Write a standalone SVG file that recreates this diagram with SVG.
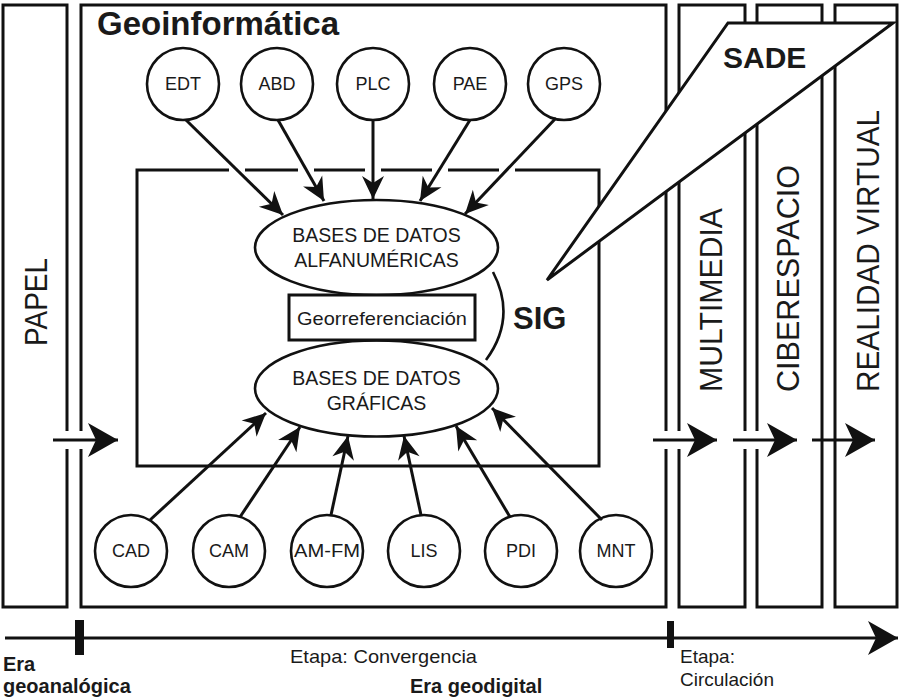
<svg xmlns="http://www.w3.org/2000/svg" width="900" height="700" viewBox="0 0 900 700">
<style>
.fr{fill:none;stroke:#111;stroke-width:3}
.c{fill:#fff;stroke:#111;stroke-width:2.6}
.t{font-family:"Liberation Sans",Arial,sans-serif;fill:#1a1a1a}
.lbl{font-size:18px;text-anchor:middle}
.el{font-size:19.5px;text-anchor:middle}
.col{font-size:32px}
.b{font-weight:bold}
.ar{stroke:#111;stroke-width:3;fill:none}
</style>
<defs>
<marker id="ah" markerUnits="userSpaceOnUse" markerWidth="26" markerHeight="26" viewBox="-24 -13 26 26" refX="0" refY="0" orient="auto">
<path d="M0,0 L-23,-11 L-16,0 L-23,11 z" fill="#111"/>
</marker>
<marker id="big" markerUnits="userSpaceOnUse" markerWidth="34" markerHeight="40" viewBox="-32 -20 34 40" refX="0" refY="0" orient="auto">
<path d="M0,0 L-30,-17 L-22,0 L-30,17 z" fill="#111"/>
</marker>
</defs>
<rect width="900" height="700" fill="#fff"/>

<g id="papel">
<rect class="fr" x="3" y="5" width="64" height="602"/>
<text class="t col" transform="translate(47,346) rotate(-90)" textLength="88" lengthAdjust="spacingAndGlyphs">PAPEL</text>
</g>

<g id="geoinformatica">
<rect class="fr" x="81" y="5" width="585" height="602"/>
<text class="t b" x="97" y="35" font-size="33">Geoinformática</text>
</g>

<g id="multimedia">
<rect class="fr" x="679" y="5" width="66" height="602"/>
<text class="t col" transform="translate(722,392) rotate(-90)" textLength="184" lengthAdjust="spacingAndGlyphs">MULTIMEDIA</text>
</g>
<g id="ciberespacio">
<rect class="fr" x="757" y="5" width="65" height="602"/>
<text class="t col" transform="translate(799,392) rotate(-90)" textLength="227" lengthAdjust="spacingAndGlyphs">CIBERESPACIO</text>
</g>
<g id="realidad">
<rect class="fr" x="835" y="5" width="62" height="602"/>
<text class="t col" transform="translate(879,392) rotate(-90)" textLength="282" lengthAdjust="spacingAndGlyphs">REALIDAD VIRTUAL</text>
</g>

<g id="sig-frame">
<path class="fr" stroke-linejoin="miter" d="M229,170 H137 V466 H599 V170 H515 M499,170 H448 M432,170 H381 M365,170 H314 M298,170 H245"/>
</g>

<g id="bda">
<ellipse class="c" cx="376.5" cy="247.5" rx="121.5" ry="47.5" stroke-width="3"/>
<text class="t el" x="376.5" y="242">BASES DE DATOS</text>
<text class="t el" x="376.5" y="267">ALFANUMÉRICAS</text>
</g>
<g id="bdg">
<ellipse class="c" cx="376.5" cy="388.5" rx="121.5" ry="48" stroke-width="3"/>
<text class="t el" x="376.5" y="385">BASES DE DATOS</text>
<text class="t el" x="376.5" y="410">GRÁFICAS</text>
</g>
<g id="georref">
<rect x="289" y="295" width="186" height="45" fill="#fff" stroke="#111" stroke-width="3"/>
<text class="t" x="297" y="325" font-size="19" textLength="170" lengthAdjust="spacingAndGlyphs">Georreferenciación</text>
</g>
<g id="sig">
<path d="M493,272 Q517,318 486,360" fill="none" stroke="#111" stroke-width="2.6"/>
<text class="t b" x="513" y="329" font-size="31">SIG</text>
</g>

<g id="top-nodes">
<g id="edt"><circle class="c" cx="183" cy="84" r="36"/><text class="t lbl" x="183" y="90">EDT</text></g>
<g id="abd"><circle class="c" cx="277" cy="84" r="36"/><text class="t lbl" x="277" y="90">ABD</text></g>
<g id="plc"><circle class="c" cx="373" cy="84" r="36"/><text class="t lbl" x="373" y="90">PLC</text></g>
<g id="pae"><circle class="c" cx="470" cy="84" r="36"/><text class="t lbl" x="470" y="90">PAE</text></g>
<g id="gps"><circle class="c" cx="564" cy="84" r="36"/><text class="t lbl" x="564" y="90">GPS</text></g>
</g>

<g id="bottom-nodes">
<g id="cad"><circle class="c" cx="131" cy="551" r="36"/><text class="t lbl" x="131" y="557">CAD</text></g>
<g id="cam"><circle class="c" cx="229" cy="551" r="36"/><text class="t lbl" x="229" y="557">CAM</text></g>
<g id="amfm"><circle class="c" cx="327" cy="551" r="36"/><text class="t lbl" x="327" y="557" textLength="66" lengthAdjust="spacingAndGlyphs">AM-FM</text></g>
<g id="lis"><circle class="c" cx="424" cy="551" r="36"/><text class="t lbl" x="424" y="557">LIS</text></g>
<g id="pdi"><circle class="c" cx="521" cy="551" r="36"/><text class="t lbl" x="521" y="557">PDI</text></g>
<g id="mnt"><circle class="c" cx="616" cy="551" r="36"/><text class="t lbl" x="616" y="557">MNT</text></g>
</g>

<g id="connectors">
<line class="ar" x1="186" y1="120" x2="283" y2="215" marker-end="url(#ah)"/>
<line class="ar" x1="278" y1="120" x2="324" y2="201" marker-end="url(#ah)"/>
<line class="ar" x1="373" y1="120" x2="373" y2="199" marker-end="url(#ah)"/>
<line class="ar" x1="470" y1="120" x2="420" y2="201" marker-end="url(#ah)"/>
<line class="ar" x1="556" y1="118" x2="465" y2="214" marker-end="url(#ah)"/>
<line class="ar" x1="150" y1="520" x2="266" y2="413" marker-end="url(#ah)"/>
<line class="ar" x1="240" y1="517" x2="300" y2="427" marker-end="url(#ah)"/>
<line class="ar" x1="331" y1="515" x2="348" y2="436" marker-end="url(#ah)"/>
<line class="ar" x1="421" y1="515" x2="404" y2="436" marker-end="url(#ah)"/>
<line class="ar" x1="510" y1="517" x2="456" y2="426" marker-end="url(#ah)"/>
<line class="ar" x1="602" y1="520" x2="492" y2="408" marker-end="url(#ah)"/>
<g fill="#fff">
<rect x="62" y="431" width="24" height="18"/>
<rect x="661" y="431" width="24" height="18"/>
<rect x="740" y="431" width="23" height="18"/>
</g>
<line class="ar" x1="53" y1="440" x2="118" y2="440" marker-end="url(#big)"/>
<line class="ar" x1="653" y1="440" x2="717" y2="440" marker-end="url(#big)"/>
<line class="ar" x1="733" y1="440" x2="797" y2="440" marker-end="url(#big)"/>
<line class="ar" x1="812" y1="440" x2="875" y2="440" marker-end="url(#big)"/>
</g>

<g id="sade">
<polygon points="728,23 893,23 547,280" fill="#fff" stroke="#111" stroke-width="3" stroke-linejoin="miter"/>
<text class="t b" x="723" y="68" font-size="30">SADE</text>
</g>

<g id="timeline">
<line class="ar" x1="5" y1="638" x2="898" y2="638" marker-end="url(#big)"/>
<rect x="75" y="620" width="9" height="35" fill="#111"/>
<rect x="667" y="621" width="7" height="27" fill="#111"/>
<text class="t b" x="3" y="671" font-size="20">Era</text>
<text class="t b" x="3" y="693" font-size="20">geoanalógica</text>
<text class="t" x="290" y="663" font-size="19" textLength="187" lengthAdjust="spacingAndGlyphs">Etapa: Convergencia</text>
<text class="t b" x="410" y="693" font-size="20">Era geodigital</text>
<text class="t" x="680" y="663" font-size="19">Etapa:</text>
<text class="t" x="680" y="686" font-size="19">Circulación</text>
</g>
</svg>
